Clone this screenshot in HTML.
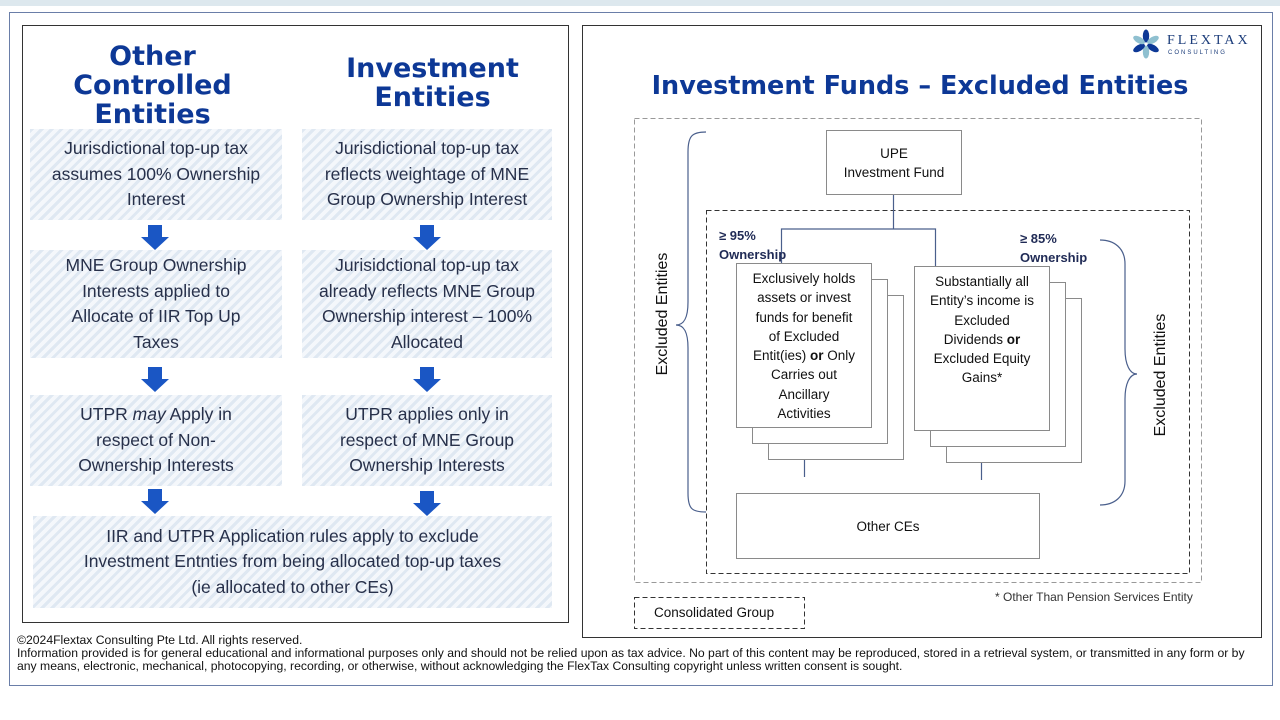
<!DOCTYPE html>
<html><head><meta charset="utf-8"><style>
*{margin:0;padding:0;box-sizing:border-box}
body{width:1280px;height:720px;background:#fff;position:relative;font-family:"Liberation Sans",sans-serif;overflow:hidden;color:#1f2a44}
.a{position:absolute}
.h{background:repeating-linear-gradient(135deg,#dfe8f2 0 3px,#f4f7fb 3px 7px);display:flex;align-items:center;justify-content:center;text-align:center;font-size:17.5px;line-height:25.5px;color:#27304a;padding:0 14px}
.t{font-family:"DejaVu Sans",sans-serif;font-weight:bold;color:#0d3896;text-align:center;font-size:27px;line-height:29px}
.b{position:absolute;border:1px solid #8a8a8a;background:#fff;font-size:13.5px;line-height:19.3px;text-align:center;color:#111}
.ft{font-size:12.2px;white-space:nowrap;color:#111}
.rot{white-space:nowrap}
</style></head><body>
<div class="a" style="left:0;top:0;width:1280px;height:6px;background:#dde8ee"></div>
<div class="a" style="left:9px;top:12px;width:1264px;height:674px;border:1px solid #6a7ea8"></div>
<div class="a" style="left:22px;top:25px;width:547px;height:598px;border:1px solid #333"></div>
<div class="a" style="left:582px;top:25px;width:680px;height:613px;border:1px solid #333"></div>

<div class="a t" style="left:30px;top:42px;width:245px">Other<br>Controlled<br>Entities</div>
<div class="a t" style="left:300px;top:54px;width:265px">Investment<br>Entities</div>

<div class="a h" style="left:30px;top:129px;width:252px;height:91px"><span>Jurisdictional top-up tax assumes 100% Ownership Interest</span></div>
<div class="a h" style="left:302px;top:129px;width:250px;height:91px;padding:0 10px"><span>Jurisdictional top-up tax reflects weightage of MNE Group Ownership Interest</span></div>
<div class="a h" style="left:30px;top:250px;width:252px;height:108px;padding:0 22px"><span>MNE Group Ownership Interests applied to Allocate of IIR Top Up Taxes</span></div>
<div class="a h" style="left:302px;top:250px;width:250px;height:108px;padding:0 10px"><span>Jurisidctional top-up tax already reflects MNE Group Ownership interest – 100% Allocated</span></div>
<div class="a h" style="left:30px;top:395px;width:252px;height:91px;padding:0 28px"><span>UTPR <i>may</i> Apply in respect of Non-Ownership Interests</span></div>
<div class="a h" style="left:302px;top:395px;width:250px;height:91px;padding:0 20px"><span>UTPR applies only in respect of MNE Group Ownership Interests</span></div>
<div class="a h" style="left:33px;top:516px;width:519px;height:92px"><span>IIR and UTPR Application rules apply to exclude<br>Investment Entnties from being allocated top-up taxes<br>(ie allocated to other CEs)</span></div>

<svg class="a" style="left:0;top:0" width="580" height="620">
<g fill="#1a56c4">
<path d="M148 225h14v12h7l-14 13-14-13h7z"/>
<path d="M420 225h14v12h7l-14 13-14-13h7z"/>
<path d="M148 367h14v12h7l-14 13-14-13h7z"/>
<path d="M420 367h14v12h7l-14 13-14-13h7z"/>
<path d="M148 489h14v12h7l-14 13-14-13h7z"/>
<path d="M420 491h14v12h7l-14 13-14-13h7z"/>
</g></svg>

<svg class="a" style="left:1130px;top:28px" width="32" height="32" viewBox="-16 -16 32 32">
<g>
<ellipse cx="0" cy="-8" rx="3.2" ry="6.5" fill="#0d3896"/>
<ellipse cx="0" cy="-8" rx="3.2" ry="6.5" fill="#8fc0d0" transform="rotate(60)"/>
<ellipse cx="0" cy="-8" rx="3.2" ry="6.5" fill="#0d3896" transform="rotate(120)"/>
<ellipse cx="0" cy="-8" rx="3.2" ry="6.5" fill="#8fc0d0" transform="rotate(180)"/>
<ellipse cx="0" cy="-8" rx="3.2" ry="6.5" fill="#0d3896" transform="rotate(240)"/>
<ellipse cx="0" cy="-8" rx="3.2" ry="6.5" fill="#8fc0d0" transform="rotate(300)"/>
</g></svg>
<div class="a" style="left:1167px;top:33px;font-size:14px;letter-spacing:3px;color:#1b3c7a;font-family:'Liberation Serif',serif">FLEXTAX</div>
<div class="a" style="left:1168px;top:50px;font-size:6px;letter-spacing:2px;color:#1b3c7a">CONSULTING</div>

<div class="a" style="left:590px;top:71px;width:660px;text-align:center;font-family:'DejaVu Sans',sans-serif;font-weight:bold;font-size:25.5px;color:#0d3896">Investment Funds – Excluded Entities</div>

<svg class="a" style="left:0;top:0" width="1280" height="720">
<g fill="none" stroke="#999" stroke-dasharray="5,3"><rect x="634.5" y="118.5" width="567" height="464"/></g>
<g fill="none" stroke="#333" stroke-dasharray="5,3"><rect x="706.5" y="210.5" width="483" height="363"/><rect x="634.5" y="597.5" width="170" height="31"/></g>
<g fill="none" stroke="#4a5f8c" stroke-width="1.2">
<path d="M893.5 194v35M781.5 263v-34h154v37"/>
<path d="M804.5 427v50M981.5 430v50"/>
<path d="M706 132c-14 0-18 4-18 20v150c0 16-4 23-12 23c8 0 12 7 12 23v145c0 16 4 19 18 19"/>
<path d="M1100 240c14 0 25 8 25 24v85c0 16 5 25 12 25c-7 0-12 9-12 25v82c0 16-11 24-25 24"/>
</g>
<g fill="#fff" stroke="#8a8a8a"><rect x="768.5" y="295.5" width="135" height="164"/><rect x="752.5" y="279.5" width="135" height="164"/>
<rect x="946.5" y="298.5" width="135" height="164"/><rect x="930.5" y="282.5" width="135" height="164"/></g>
</svg>
<div class="b" style="left:826px;top:130px;width:136px;height:65px;padding-top:13px">UPE<br>Investment Fund</div>
<div class="b" style="left:736px;top:263px;width:136px;height:165px;padding:5px 14px 0">Exclusively holds assets or invest funds for benefit of Excluded Entit(ies) <b>or</b> Only Carries out Ancillary Activities</div>
<div class="b" style="left:914px;top:266px;width:136px;height:165px;padding:5px 14px 0">Substantially all Entity’s income is Excluded Dividends <b>or</b> Excluded Equity Gains*</div>
<div class="b" style="left:736px;top:493px;width:304px;height:66px;padding-top:23px">Other CEs</div>
<div class="a" style="left:719px;top:226px;font-size:13px;font-weight:bold;color:#1f2a55;line-height:19px">≥ 95%<br>Ownership</div>
<div class="a" style="left:1020px;top:229px;font-size:13px;font-weight:bold;color:#1f2a55;line-height:19px">≥ 85%<br>Ownership</div>
<div class="a rot" style="left:593px;top:305px;width:140px;text-align:center;font-size:16px;transform:rotate(-90deg);color:#111">Excluded Entities</div>
<div class="a rot" style="left:1091px;top:366px;width:140px;text-align:center;font-size:16px;transform:rotate(-90deg);color:#111">Excluded Entities</div>
<div class="a" style="left:654px;top:605px;font-size:13.5px;color:#111">Consolidated Group</div>
<div class="a" style="left:995px;top:590px;font-size:12px;color:#333">* Other Than Pension Services Entity</div>

<div class="a ft" style="left:17px;top:633px">©2024Flextax Consulting Pte Ltd. All rights reserved.</div>
<div class="a ft" style="left:17px;top:646px">Information provided is for general educational and informational purposes only and should not be relied upon as tax advice. No part of this content may be reproduced, stored in a retrieval system, or transmitted in any form or by</div>
<div class="a ft" style="left:17px;top:659px">any means, electronic, mechanical, photocopying, recording, or otherwise, without acknowledging the FlexTax Consulting copyright unless written consent is sought.</div>
</body></html>
